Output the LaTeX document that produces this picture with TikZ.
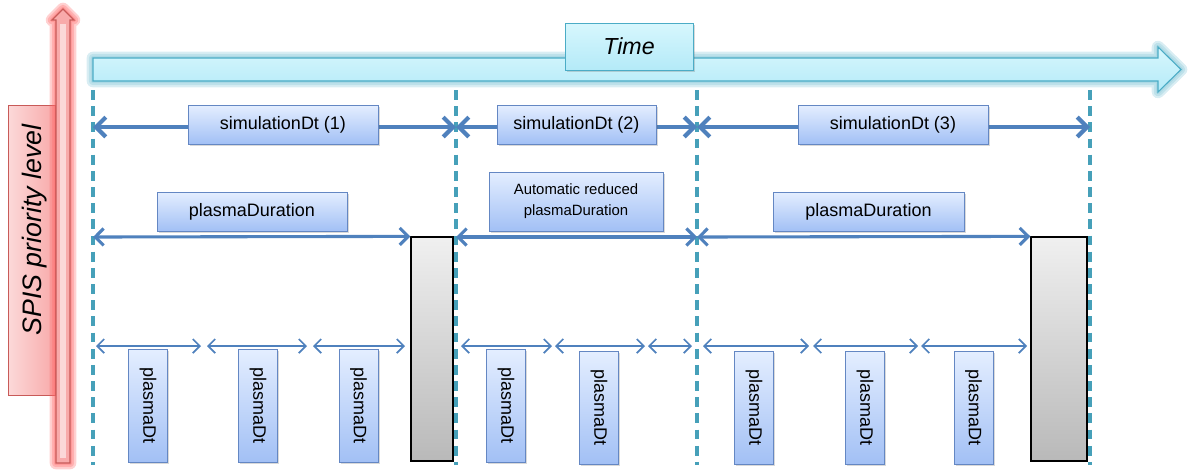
\documentclass[tikz,border=0pt]{standalone}
\usepackage{fontspec}
\setmainfont{Liberation Sans}
\usetikzlibrary{arrows.meta,positioning,shadows,calc}
\definecolor{arrowblue}{RGB}{79,129,189}
\definecolor{dashteal}{RGB}{70,160,185}
\definecolor{boxtop}{RGB}{228,238,255}
\definecolor{boxbottom}{RGB}{162,192,245}
\definecolor{boxedge}{RGB}{100,135,195}
\definecolor{timetop}{RGB}{215,247,253}
\definecolor{timebottom}{RGB}{180,234,248}
\definecolor{timeedge}{RGB}{75,172,198}
\definecolor{redfill}{RGB}{248,170,170}
\definecolor{rededge}{RGB}{200,90,88}
\tikzset{
  sz/.style 2 args={minimum width=#1*0.025cm,minimum height=#2*0.025cm},
  lbl/.style={rectangle,draw=boxedge,top color=boxtop,bottom color=boxbottom,
              inner sep=0pt,align=center,font=\fontsize{12.8}{15}\selectfont,
              drop shadow={shadow xshift=1.2pt,shadow yshift=-1.2pt,opacity=.25,fill=black!60}},
  dtbox/.style={lbl,sz={39}{113}},
  grayblk/.style={rectangle,draw=black,line width=0.9pt,top color=gray!12,bottom color=gray!55,inner sep=0pt},
  tick/.style={draw=dashteal,line width=2.6pt,dash pattern=on 7pt off 4.5pt},
  simarr/.style={{Straight Barb[length=7pt,width=14pt]}-{Straight Barb[length=7pt,width=14pt]},
                 draw=arrowblue,line width=3pt},
  pdarr/.style={{Straight Barb[length=6pt,width=12pt]}-{Straight Barb[length=6pt,width=12pt]},
                draw=arrowblue,line width=2.2pt},
  dtarr/.style={{Straight Barb[length=5pt,width=10pt]}-{Straight Barb[length=5pt,width=10pt]},
                draw=arrowblue,line width=1.2pt},
  glow/.style={draw=#1,line join=round,opacity=.3},
}

\begin{document}
\begin{tikzpicture}[x=0.025cm,y=-0.025cm]
  \useasboundingbox (0,0) rectangle (1188,470);
  % priority axis
  \node[rectangle,draw=rededge,left color=redfill!45,right color=redfill,sz={47}{290},inner sep=0pt] (prio) at (31.5,250) {};
  \node[rotate=90,font=\itshape\fontsize{19}{22}\selectfont] (priotext) at (35,230) {SPIS priority level};
  \foreach \w in {9pt,6pt,3pt}
    \path[glow=red!60,line width=\w] (56,463) -- (56,20) -- (52,20) -- (63,9) -- (74,20) -- (70,20) -- (70,463) -- cycle;
  \path[fill=redfill,draw=rededge,line width=0.8pt] (56,463) -- (56,20) -- (52,20) -- (63,9) -- (74,20) -- (70,20) -- (70,463) -- cycle;
  \fill[white,opacity=.55] (60,24) rectangle (66,458);
  % time axis
  \foreach \w in {9pt,6pt,3pt}
    \path[glow=timeedge!70,line width=\w] (93,58) -- (1158,58) -- (1158,47) -- (1181,69.5) -- (1158,92) -- (1158,81) -- (93,81) -- cycle;
  \path[top color=timetop,bottom color=timebottom,draw=timeedge,line width=0.8pt]
    (93,58) -- (1158,58) -- (1158,47) -- (1181,69.5) -- (1158,92) -- (1158,81) -- (93,81) -- cycle;
  \node[rectangle,draw=timeedge,top color=timetop,bottom color=timebottom,sz={128}{47},
        font=\itshape\fontsize{16.5}{19}\selectfont,
        drop shadow={shadow xshift=1.2pt,shadow yshift=-1.2pt,opacity=.25,fill=black!60}] (time) at (629,46.5) {Time};
  % end of plasma steps
  \node[grayblk,sz={42}{224}] (gray1) at (432,349) {};
  \node[grayblk,sz={56}{224}] (gray3) at (1059,349) {};
  % step boundaries
  \foreach \x [count=\i] in {93,456,697,1090} {
    \coordinate (vt\i) at (\x,90);
    \coordinate (vb\i) at (\x,465);
    \coordinate (vs\i) at (\x,127);
    \coordinate (vp\i) at (\x,237);
    \draw[tick] (vt\i) -- (vb\i);
  }
  % simulation steps
  \draw[simarr] (vs1) -- (vs2);
  \draw[simarr] (vs2) -- (vs3);
  \draw[simarr] (vs3) -- (vs4);
  \node[lbl,sz={190}{39}] (sim1) at (283,124.5) {simulationDt (1)};
  \node[lbl,sz={159}{39}] (sim2) at (576.5,124.5) {simulationDt (2)};
  \node[lbl,sz={190}{39}] (sim3) at (893,124.5) {simulationDt (3)};
  % plasma durations
  \draw[pdarr] (vp1) -- (gray1.north west);
  \draw[pdarr] (vp2) -- (vp3);
  \draw[pdarr] (vp3) -- (gray3.north west);
  \node[lbl,sz={190}{39}] (pd1) at (252,211.5) {plasmaDuration};
  \node[lbl,sz={174}{59},font=\fontsize{10.6}{15}\selectfont] (pd2) at (576,201.5) {Automatic reduced\\plasmaDuration};
  \node[lbl,sz={191}{39}] (pd3) at (868.5,211.5) {plasmaDuration};
  % plasma time steps
  \foreach \a/\b [count=\i] in {96/201,207/307,313/405,461/552,555/645,648/692,703/809,813/918,921/1027} {
    \coordinate (dl\i) at (\a,346);
    \coordinate (dr\i) at (\b,346);
    \draw[dtarr] (dl\i) -- (dr\i);
  }
  \foreach \x/\y [count=\i] in {148/405.5,258/405.5,358.5/405.5,506/405.5,599/407.5,754/407.5,865/407.5,973.5/407.5}
    \node[dtbox] (dt\i) at (\x,\y) {\rotatebox{-90}{plasmaDt}};
\end{tikzpicture}
\end{document}
